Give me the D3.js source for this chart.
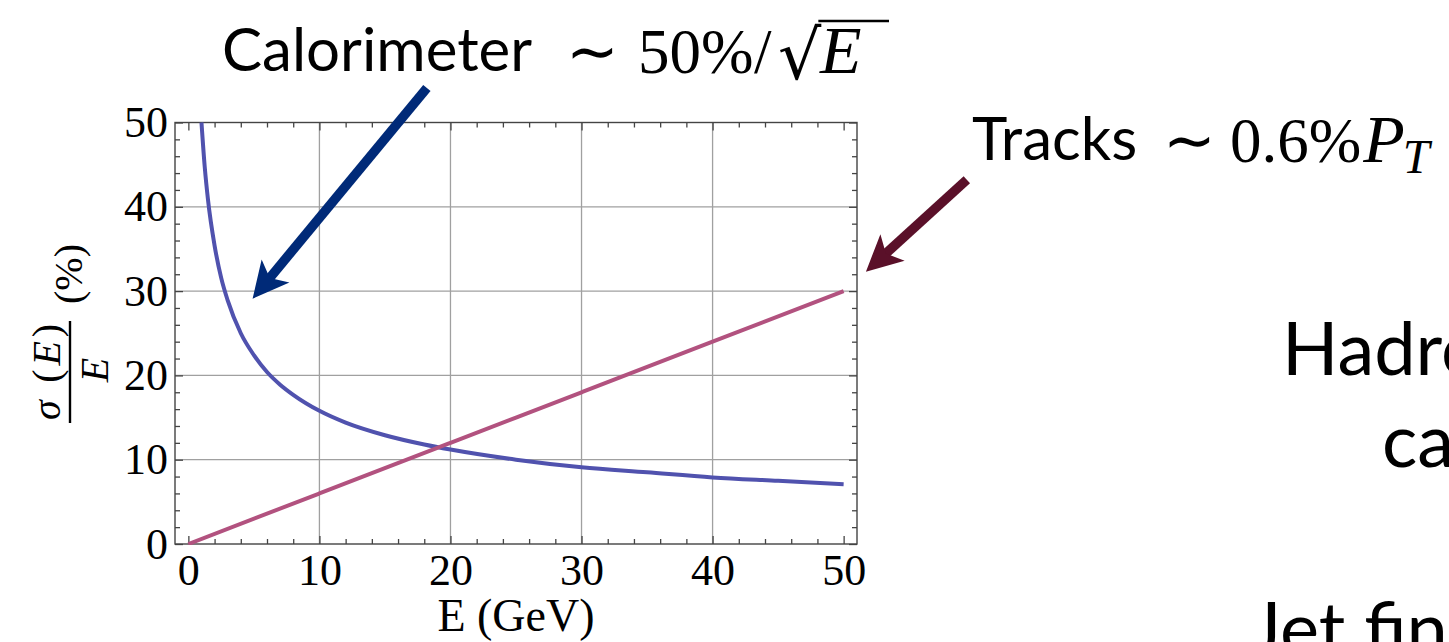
<!DOCTYPE html>
<html>
<head>
<meta charset="utf-8">
<script src="https://cdn.jsdelivr.net/npm/d3@7"></script>
<style>
body { margin: 0; background: #fff; }
</style>
</head>
<body>
<div id="chart"></div>
<script>
// values
var energy  = [1, 1.25, 1.5, 2, 2.5, 3, 4, 5, 6, 7, 8, 10, 12, 15, 18, 20, 25, 30, 35, 40, 45, 50];
var caloRes = [50, 44.7, 40.8, 35.4, 31.6, 28.9, 25, 22.4, 20.4, 18.9, 17.7, 15.8, 14.4, 12.9, 11.8, 11.2, 10, 9.1, 8.5, 7.9, 7.5, 7.1];
var trackE   = [0, 10, 20, 30, 40, 50];
var trackRes = [0, 6, 12, 18, 24, 30];
var xTicks = [0, 10, 20, 30, 40, 50];
var yTicks = [0, 10, 20, 30, 40, 50];
var minorTicks = [2, 4, 6, 8, 12, 14, 16, 18, 22, 24, 26, 28, 32, 34, 36, 38, 42, 44, 46, 48];
var xLabel = "E (GeV)";
// arrow tail / tip in data units
var caloArrow  = [[18.2, 54.1], [4.9, 29.1]];
var trackArrow = [[59.4, 43.2], [51.7, 32.3]];

var w = 1449, h = 642;
var svg = d3.select("#chart").append("svg").attr("width", w).attr("height", h);

var x = d3.scaleLinear().domain([-1.02, 51.02]).range([175, 857]);
var y = d3.scaleLinear().domain([0, 50]).range([544, 122.5]);

var serif = "'Liberation Serif', 'Times New Roman', serif";
var sans = "Lato, 'Open Sans', sans-serif";

// grid
var grid = svg.append("g").attr("stroke", "#a0a0a0").attr("stroke-width", 1.3);
grid.selectAll(".gx").data(xTicks.filter(function(d){ return d > 0 && d < 50; }))
    .enter().append("line")
    .attr("x1", function(d){ return x(d); }).attr("x2", function(d){ return x(d); })
    .attr("y1", y(0)).attr("y2", y(50));
grid.selectAll(".gy").data(yTicks.filter(function(d){ return d > 0 && d < 50; }))
    .enter().append("line")
    .attr("x1", x.range()[0]).attr("x2", x.range()[1])
    .attr("y1", function(d){ return y(d); }).attr("y2", function(d){ return y(d); });

// axes, ticks pointing inward on all four sides
function styleAxis(g) {
    g.select(".domain").remove();
    g.selectAll("line").attr("stroke", "#444").attr("stroke-width", 1.3);
    g.selectAll("text").attr("font-family", serif).attr("font-size", 44).attr("fill", "#000");
}
svg.append("g").attr("transform", "translate(0," + y(0) + ")")
    .call(d3.axisBottom(x).tickValues(xTicks).tickSizeInner(-8).tickSizeOuter(0).tickPadding(10).tickFormat(d3.format("d")))
    .call(styleAxis);
svg.append("g").attr("transform", "translate(0," + y(0) + ")")
    .call(d3.axisBottom(x).tickValues(minorTicks).tickSizeInner(-5).tickSizeOuter(0).tickFormat(""))
    .call(styleAxis);
svg.append("g").attr("transform", "translate(0," + y(50) + ")")
    .call(d3.axisTop(x).tickValues(xTicks).tickSizeInner(-8).tickSizeOuter(0).tickFormat(""))
    .call(styleAxis);
svg.append("g").attr("transform", "translate(0," + y(50) + ")")
    .call(d3.axisTop(x).tickValues(minorTicks).tickSizeInner(-5).tickSizeOuter(0).tickFormat(""))
    .call(styleAxis);
svg.append("g").attr("transform", "translate(" + x.range()[0] + ",0)")
    .call(d3.axisLeft(y).tickValues(yTicks).tickSizeInner(-8).tickSizeOuter(0).tickPadding(7).tickFormat(d3.format("d")))
    .call(styleAxis);
svg.append("g").attr("transform", "translate(" + x.range()[0] + ",0)")
    .call(d3.axisLeft(y).tickValues(minorTicks).tickSizeInner(-5).tickSizeOuter(0).tickFormat(""))
    .call(styleAxis);
svg.append("g").attr("transform", "translate(" + x.range()[1] + ",0)")
    .call(d3.axisRight(y).tickValues(yTicks).tickSizeInner(-8).tickSizeOuter(0).tickFormat(""))
    .call(styleAxis);
svg.append("g").attr("transform", "translate(" + x.range()[1] + ",0)")
    .call(d3.axisRight(y).tickValues(minorTicks).tickSizeInner(-5).tickSizeOuter(0).tickFormat(""))
    .call(styleAxis);

// frame
svg.append("rect")
    .attr("x", x.range()[0]).attr("y", y(50))
    .attr("width", x.range()[1] - x.range()[0]).attr("height", y(0) - y(50))
    .attr("fill", "none").attr("stroke", "#444").attr("stroke-width", 1.4);

// curves
svg.append("clipPath").attr("id", "clip").append("rect")
    .attr("x", x.range()[0]).attr("y", y(50) - 1)
    .attr("width", x.range()[1] - x.range()[0]).attr("height", y(0) - y(50) + 2);

var line = d3.line().curve(d3.curveMonotoneX)
    .x(function(d){ return x(d[0]); }).y(function(d){ return y(d[1]); });

svg.append("path")
    .datum(energy.map(function(e, i){ return [e, caloRes[i]]; }))
    .attr("clip-path", "url(#clip)")
    .attr("d", line).attr("fill", "none")
    .attr("stroke", "#5052ae").attr("stroke-width", 4);

svg.append("path")
    .datum(trackE.map(function(e, i){ return [e, trackRes[i]]; }))
    .attr("clip-path", "url(#clip)")
    .attr("d", line).attr("fill", "none")
    .attr("stroke", "#b2527f").attr("stroke-width", 4);

// axis titles
svg.append("text").attr("x", (x.range()[0] + x.range()[1]) / 2).attr("y", 631)
    .attr("text-anchor", "middle").attr("font-family", serif).attr("font-size", 46)
    .text(xLabel);

var yl = svg.append("g").attr("transform", "translate(70,372) rotate(-90)")
    .attr("font-family", serif).attr("font-size", 40);
yl.append("line").attr("x1", -51).attr("x2", 51).attr("y1", 0).attr("y2", 0)
    .attr("stroke", "#000").attr("stroke-width", 2.4);
var num = yl.append("text").attr("x", 0).attr("y", -10).attr("text-anchor", "middle")
    .attr("textLength", 96).attr("lengthAdjust", "spacing");
num.append("tspan").attr("font-style", "italic").text("σ");
num.append("tspan").text(" (");
num.append("tspan").attr("font-style", "italic").text("E");
num.append("tspan").text(")");
yl.append("text").attr("x", 2).attr("y", 38).attr("text-anchor", "middle")
    .attr("font-style", "italic").text("E");
yl.append("text").attr("x", 68).attr("y", 12).text("(%)");

// arrows
function drawArrow(pts, color) {
    var p0 = [x(pts[0][0]), y(pts[0][1])], p1 = [x(pts[1][0]), y(pts[1][1])];
    var dx = p1[0] - p0[0], dy = p1[1] - p0[1], len = Math.sqrt(dx * dx + dy * dy);
    var ux = dx / len, uy = dy / len, nx = -uy, ny = ux;
    var headLen = 36, notch = 27, half = 18;
    var base = [p1[0] - ux * notch, p1[1] - uy * notch];
    svg.append("line").attr("x1", p0[0]).attr("y1", p0[1]).attr("x2", base[0] + ux * 2).attr("y2", base[1] + uy * 2)
        .attr("stroke", color).attr("stroke-width", 9.5);
    var b1 = [p1[0] - ux * headLen + nx * half, p1[1] - uy * headLen + ny * half];
    var b2 = [p1[0] - ux * headLen - nx * half, p1[1] - uy * headLen - ny * half];
    svg.append("path").attr("d", "M" + p1 + "L" + b1 + "L" + base + "L" + b2 + "Z").attr("fill", color);
}
drawArrow(caloArrow, "#002a78");
drawArrow(trackArrow, "#5a1029");

// annotations
svg.append("text").attr("x", 222).attr("y", 71).attr("font-family", sans).attr("font-size", 60)
    .attr("fill", "#000").text("Calorimeter");
var calMath = svg.append("text").attr("y", 73).attr("font-family", serif).attr("font-size", 63);
calMath.append("tspan").attr("x", 566).text("∼");
calMath.append("tspan").attr("x", 638).text("50%");
calMath.append("tspan").attr("x", 754).text("/");
calMath.append("tspan").attr("x", 778).attr("dy", 6).attr("font-size", 68).attr("font-family", "'DejaVu Serif', serif").text("√");
calMath.append("tspan").attr("x", 820).attr("dy", -6).attr("font-style", "italic").attr("font-size", 68).text("E");
var n = calMath.node().getNumberOfChars();
var rad = calMath.node().getExtentOfChar(n - 2);
svg.append("line").attr("x1", rad.x + rad.width - 3).attr("x2", 889)
    .attr("y1", rad.y + 5).attr("y2", rad.y + 5).attr("stroke", "#000").attr("stroke-width", 2.6);

svg.append("text").attr("x", 972).attr("y", 160).attr("font-family", sans).attr("font-size", 60)
    .attr("fill", "#000").text("Tracks");
var trMath = svg.append("text").attr("y", 162).attr("font-family", serif).attr("font-size", 63);
trMath.append("tspan").attr("x", 1163).text("∼");
trMath.append("tspan").attr("x", 1230).text("0.6%");
trMath.append("tspan").attr("dx", 2).attr("font-style", "italic").attr("font-size", 68).text("P");
trMath.append("tspan").attr("dx", -2).attr("font-style", "italic").attr("font-size", 48).attr("dy", 11).text("T");

svg.append("text").attr("x", 1282).attr("y", 375).attr("font-family", sans).attr("font-size", 74).text("Hadronic");
svg.append("text").attr("x", 1382).attr("y", 467).attr("font-family", sans).attr("font-size", 74).text("calorimeter");
svg.append("text").attr("x", 1250).attr("y", 655).attr("font-family", sans).attr("font-size", 74).text("Jet finding");
</script>
</body>
</html>
